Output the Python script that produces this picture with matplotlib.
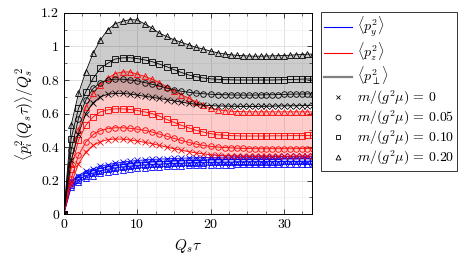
import matplotlib
matplotlib.use("Agg")
import matplotlib.pyplot as plt
from matplotlib.lines import Line2D
from matplotlib.ticker import MultipleLocator

plt.rcParams['font.family'] = 'serif'
plt.rcParams['font.serif'] = ['cmr10', 'DejaVu Serif']
plt.rcParams['mathtext.fontset'] = 'cm'
plt.rcParams['axes.formatter.use_mathtext'] = True

# time grid (Q_s tau)
tau = [0, 1, 2, 3, 4, 5, 6, 7, 8, 9, 10, 11, 12, 13, 14, 15, 16, 17, 18, 19, 20,
       21, 22, 22.8, 23.6, 24.4, 25.2, 26.0, 26.8, 27.6, 28.4, 29.2, 30.0, 30.8,
       31.6, 32.4, 33.2, 34.0]

# <p_perp^2>
perp_m0 = [0, 0.32, 0.48, 0.60, 0.665, 0.70, 0.715, 0.72, 0.72, 0.716, 0.71, 0.703,
           0.697, 0.69, 0.683, 0.675, 0.668, 0.661, 0.655, 0.65, 0.647, 0.645, 0.644,
           0.643, 0.643, 0.642, 0.642, 0.642, 0.643, 0.643, 0.644, 0.645, 0.645,
           0.646, 0.646, 0.647, 0.647, 0.648]
perp_m005 = [0, 0.38, 0.57, 0.68, 0.75, 0.785, 0.80, 0.805, 0.805, 0.80, 0.795, 0.785,
             0.775, 0.765, 0.752, 0.742, 0.733, 0.727, 0.722, 0.718, 0.715, 0.713, 0.712,
             0.711, 0.71, 0.71, 0.71, 0.71, 0.711, 0.712, 0.712, 0.713, 0.714, 0.715,
             0.716, 0.716, 0.717, 0.717]
perp_m010 = [0, 0.45, 0.63, 0.73, 0.81, 0.87, 0.90, 0.925, 0.932, 0.933, 0.928, 0.92,
             0.91, 0.895, 0.88, 0.862, 0.845, 0.83, 0.82, 0.812, 0.807, 0.804, 0.802,
             0.801, 0.80, 0.80, 0.80, 0.80, 0.80, 0.80, 0.80, 0.801, 0.802, 0.803,
             0.804, 0.805, 0.806, 0.806]
perp_m020 = [0, 0.53, 0.72, 0.85, 0.96, 1.04, 1.10, 1.135, 1.15, 1.16, 1.158, 1.135,
             1.11, 1.08, 1.06, 1.04, 1.025, 1.01, 0.995, 0.985, 0.972, 0.962, 0.955,
             0.95, 0.947, 0.945, 0.943, 0.942, 0.942, 0.943, 0.944, 0.945, 0.946,
             0.948, 0.95, 0.952, 0.954, 0.955]

# <p_z^2>
z_m0 = [0, 0.18, 0.30, 0.37, 0.41, 0.432, 0.444, 0.448, 0.447, 0.442, 0.436, 0.428,
        0.42, 0.41, 0.40, 0.39, 0.381, 0.373, 0.365, 0.359, 0.354, 0.35, 0.348,
        0.347, 0.346, 0.345, 0.345, 0.345, 0.345, 0.345, 0.345, 0.345, 0.345,
        0.345, 0.346, 0.346, 0.346, 0.346]
z_m005 = [0, 0.21, 0.35, 0.43, 0.475, 0.498, 0.51, 0.515, 0.515, 0.512, 0.507, 0.50,
          0.49, 0.478, 0.465, 0.452, 0.44, 0.428, 0.418, 0.41, 0.404, 0.40, 0.397,
          0.395, 0.393, 0.392, 0.391, 0.39, 0.39, 0.39, 0.39, 0.39, 0.39, 0.39,
          0.39, 0.391, 0.391, 0.391]
z_m010 = [0, 0.27, 0.44, 0.53, 0.58, 0.61, 0.622, 0.628, 0.628, 0.624, 0.618, 0.61,
          0.60, 0.585, 0.565, 0.548, 0.53, 0.515, 0.50, 0.49, 0.48, 0.473, 0.47,
          0.468, 0.467, 0.466, 0.466, 0.466, 0.466, 0.466, 0.467, 0.467, 0.467,
          0.468, 0.468, 0.468, 0.469, 0.469]
z_m020 = [0, 0.30, 0.50, 0.64, 0.72, 0.77, 0.81, 0.838, 0.848, 0.848, 0.835, 0.822,
          0.805, 0.785, 0.76, 0.735, 0.712, 0.692, 0.67, 0.65, 0.633, 0.622, 0.617,
          0.614, 0.612, 0.611, 0.61, 0.61, 0.61, 0.61, 0.61, 0.61, 0.61, 0.61,
          0.61, 0.61, 0.61, 0.61]

# <p_y^2>
y_m0 = [0, 0.20, 0.23, 0.255, 0.27, 0.285, 0.295, 0.303, 0.31, 0.315, 0.32, 0.323,
        0.326, 0.328, 0.33, 0.332, 0.333, 0.335, 0.336, 0.337, 0.338, 0.339, 0.34,
        0.34, 0.341, 0.341, 0.342, 0.342, 0.342, 0.343, 0.343, 0.343, 0.344,
        0.344, 0.344, 0.345, 0.345, 0.345]
y_m005 = [0, 0.19, 0.22, 0.245, 0.26, 0.273, 0.283, 0.29, 0.296, 0.301, 0.305, 0.308,
          0.311, 0.313, 0.315, 0.317, 0.318, 0.32, 0.321, 0.322, 0.323, 0.324, 0.325,
          0.325, 0.326, 0.326, 0.327, 0.327, 0.327, 0.328, 0.328, 0.328, 0.329,
          0.329, 0.329, 0.33, 0.33, 0.33]
y_m010 = [0, 0.175, 0.205, 0.23, 0.245, 0.258, 0.268, 0.275, 0.281, 0.286, 0.29, 0.293,
          0.296, 0.298, 0.30, 0.302, 0.303, 0.305, 0.306, 0.307, 0.308, 0.309, 0.31,
          0.31, 0.311, 0.311, 0.312, 0.312, 0.312, 0.313, 0.313, 0.313, 0.314,
          0.314, 0.314, 0.315, 0.315, 0.315]
y_m020 = [0, 0.16, 0.19, 0.215, 0.23, 0.243, 0.253, 0.26, 0.266, 0.271, 0.275, 0.278,
          0.281, 0.283, 0.285, 0.287, 0.288, 0.29, 0.291, 0.292, 0.293, 0.294, 0.295,
          0.295, 0.296, 0.296, 0.297, 0.297, 0.297, 0.298, 0.298, 0.298, 0.299,
          0.299, 0.299, 0.30, 0.30, 0.30]

mass_labels = ['0', '0.05', '0.10', '0.20']
markers = ['x', 'o', 's', '^']

groups = [
    ('blue', [y_m0, y_m005, y_m010, y_m020]),
    ('red', [z_m0, z_m005, z_m010, z_m020]),
    ('black', [perp_m0, perp_m005, perp_m010, perp_m020]),
]

fig = plt.figure(figsize=(4.69, 2.64), dpi=100)
ax = fig.add_axes([0.136, 0.189, 0.529, 0.762])

for color, series in groups:
    lo = [min(v) for v in zip(*series)]
    hi = [max(v) for v in zip(*series)]
    ax.fill_between(tau, lo, hi, color=color, alpha=0.2, lw=0)
    for s, mk in zip(series, markers):
        ax.plot(tau, s, color=color, lw=0.6, marker=mk, ms=4, mew=0.6,
                mfc='none', clip_on=True)

ax.set_xlim(0, 33.8)
ax.set_ylim(0, 1.2)
ax.xaxis.set_minor_locator(MultipleLocator(2.5))
ax.yaxis.set_minor_locator(MultipleLocator(0.1))
ax.set_yticks([0, 0.2, 0.4, 0.6, 0.8, 1.0, 1.2])
ax.set_yticklabels(['0', '0.2', '0.4', '0.6', '0.8', '1', '1.2'])
ax.set_xticks([0, 10, 20, 30])
ax.set_xticklabels(['0', '10', '20', '30'])
ax.grid(True, which='major', color='#dddddd', lw=0.6)
ax.grid(True, which='minor', color='#eeeeee', lw=0.5)
ax.set_axisbelow(True)
ax.tick_params(which='both', direction='in', top=True, right=True, labelsize=10)
ax.tick_params(which='major', length=3.5, width=0.5)
ax.tick_params(which='minor', length=2, width=0.4)
for sp in ax.spines.values():
    sp.set_linewidth(0.7)

ax.set_xlabel(r'$Q_s\tau$', fontsize=11)
ax.set_ylabel(r'$\left\langle p_i^2(Q_s\tau)\right\rangle/Q_s^2$', fontsize=11)

handles = [
    Line2D([], [], color='blue', lw=0.8),
    Line2D([], [], color='red', lw=0.8),
    Line2D([], [], color='grey', lw=1.6),
]
labels = [r'$\langle p_y^2\rangle$', r'$\langle p_z^2\rangle$',
          r'$\langle p_\perp^2\rangle$']
for mk, ml in zip(markers, mass_labels):
    handles.append(Line2D([], [], color='black', ls='none', marker=mk, ms=3.5,
                          mew=0.6, mfc='none'))
    labels.append(r'$m/(g^2\mu)\,=\,%s$' % ml)

leg = ax.legend(handles, labels, loc='upper left', bbox_to_anchor=(1.035, 1.005),
                borderaxespad=0, fontsize=10, frameon=True, fancybox=False,
                edgecolor='black', labelspacing=0.12, handlelength=2.0,
                handletextpad=0.35, borderpad=0.25)
leg.get_frame().set_linewidth(0.7)

fig.savefig('out.png', dpi=100)
